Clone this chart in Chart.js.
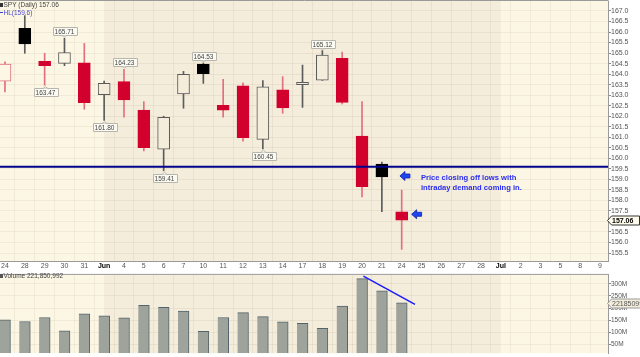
<!DOCTYPE html>
<html><head><meta charset="utf-8">
<script src="https://cdn.jsdelivr.net/npm/chart.js@4.4.1/dist/chart.umd.min.js"></script>
<style>
html,body{margin:0;padding:0;background:#fff;}
#w{position:relative;width:640px;height:357px;overflow:hidden;background:#fff;}
#p{position:absolute;left:0;top:0;width:640px;height:271px;}
#v{position:absolute;left:0;top:271px;width:640px;height:86px;}
</style></head><body>
<div id="w"><div id="p"><canvas id="cp"></canvas></div><div id="v"><canvas id="cv"></canvas></div></div>
<script>
// ---- data ----
const dates = ['24','28','29','30','31','Jun','4','5','6','7','10','11','12','13','14','17','18','19','20','21','24','25','26','27','28','Jul','2','3','5','8','9'];
const monthLabels = ['Jun','Jul'];
const priorClose = 165.0;
const opens  = [163.66,166.18,164.61,164.51,164.54,163.02,163.64,162.29,160.44,163.06,164.48,162.52,163.44,160.90,163.25,163.50,163.71,164.75,161.06,159.73,157.46];
const highs  = [164.59,166.78,164.99,165.71,165.46,163.67,164.23,162.69,162.00,164.13,164.53,163.75,163.59,163.69,163.88,164.43,165.12,165.05,162.69,159.82,158.49];
const lows   = [163.16,164.99,163.47,164.40,162.33,161.80,161.95,160.35,159.41,162.38,163.56,161.95,160.82,160.45,162.14,162.42,163.70,162.58,158.17,157.46,155.67];
const closes = [164.48,165.43,164.40,165.02,162.64,163.56,162.77,160.50,161.95,163.99,164.02,162.29,160.98,163.40,162.40,163.61,164.91,162.66,158.65,159.12,157.06];
const volumes = [151.5,144.0,160.7,105.7,176.0,168.0,159.0,211.0,202.7,187.0,103.0,160.7,181.0,164.5,142.7,136.0,116.0,207.6,322.0,271.0,221.850992]; // millions
const lastVolume = 221850992;
const priceTicks = [155.5,156.0,156.5,157.0,157.5,158.0,158.5,159.0,159.5,160.0,160.5,161.0,161.5,162.0,162.5,163.0,163.5,164.0,164.5,165.0,165.5,166.0,166.5,167.0];
const volumeTicks = [50,100,150,200,250,300];
const hlLevel = 159.6;
const calloutIdx  = [3,2,5,6,8,10,13,16];
const calloutVal  = [165.71,163.47,161.80,164.23,159.41,164.53,160.45,165.12];
const calloutSide = ['above','below','below','above','below','above','below','above'];
const arrowX = [19.91, 20.50];
const arrowY = [159.16, 157.34];
const noteLines = ['Price closing off lows with','intraday demand coming in.'];
const noteX = 20.97;
const noteY = [159.08, 158.57];
const volTrendX = [18.07, 20.67];
const volTrendY = [332, 215];

// ---- styling ----
const F = '"Liberation Sans", Arial, sans-serif';
const XMIN = -0.25, XMAX = 30.4;
const MAYC = '#fcf6e5', JUNC = '#f4eddc';
const RED = '#d2002d', REDWICK = '#e2707e', GRAYWICK = '#5c5c5c';
const GRID = 'rgba(150,125,80,0.10)';
const N = closes.length;
const junStart = dates.indexOf('Jun'), julStart = dates.indexOf('Jul');
const isRed = closes.map((c,i)=> c < (i ? closes[i-1] : priorClose));
const isHollow = closes.map((c,i)=> c >= opens[i]);
const inJune = i => i >= junStart && i < julStart;
const bodyFill = closes.map((c,i)=> isHollow[i] ? (inJune(i) ? JUNC : MAYC) : (isRed[i] ? RED : '#000'));
const bodyBorder = closes.map((c,i)=> isHollow[i] ? (isRed[i] ? REDWICK : '#5a5a5a') : (isRed[i] ? RED : '#000'));
const wickColor = closes.map((c,i)=> isRed[i] ? REDWICK : GRAYWICK);

const idx = closes.map((c,i)=>i);
const bodyData  = idx.map(i=>({x:i, y:[Math.min(opens[i],closes[i]), Math.max(opens[i],closes[i])]}));
const upWick    = idx.map(i=>({x:i, y:[Math.max(opens[i],closes[i]), highs[i]]}));
const downWick  = idx.map(i=>({x:i, y:[lows[i], Math.min(opens[i],closes[i])]}));

const bgPlugin = {
  id:'bg',
  beforeDraw(chart){
    const {ctx, chartArea:a, scales:{x}} = chart;
    ctx.save();
    ctx.fillStyle = MAYC; ctx.fillRect(a.left, a.top, a.right-a.left, a.bottom-a.top);
    const x0 = x.getPixelForValue(junStart), x1 = x.getPixelForValue(julStart);
    ctx.fillStyle = JUNC; ctx.fillRect(x0, a.top, x1-x0, a.bottom-a.top);
    ctx.restore();
  },
  afterDraw(chart){
    const {ctx, chartArea:a} = chart;
    ctx.save();
    ctx.strokeStyle = '#9a9a9a'; ctx.lineWidth = 1;
    ctx.beginPath(); ctx.moveTo(a.left, a.top-0.5); ctx.lineTo(a.right+0.5, a.top-0.5); ctx.stroke();
    ctx.restore();
  }
};

function tag(ctx, r, py, text, bold, right){
  ctx.save();
  ctx.font = (bold?'bold ':'') + '7px ' + F;
  ctx.beginPath();
  ctx.moveTo(r-0.5, py); ctx.lineTo(r+3.5, py-4.5); ctx.lineTo(right, py-4.5);
  ctx.lineTo(right, py+4.5); ctx.lineTo(r+3.5, py+4.5); ctx.closePath();
  ctx.fillStyle = bold ? '#fffcee' : '#f3eedb'; ctx.fill();
  ctx.strokeStyle = bold ? '#333' : '#999'; ctx.lineWidth = 1; ctx.stroke();
  ctx.fillStyle = bold ? '#000' : '#555'; ctx.textBaseline = 'middle'; ctx.textAlign = 'left';
  ctx.fillText(text, r+4, py+0.5);
  ctx.restore();
}

const pricePlugin = {
  id:'priceDeco',
  afterDatasetsDraw(chart){
    const {ctx, scales:{x,y}} = chart;
    ctx.save();
    ctx.font = '6.5px ' + F;
    calloutIdx.forEach((ci,k)=>{
      const px = Math.round(x.getPixelForValue(ci)) + 0.5;
      const py = y.getPixelForValue(calloutVal[k]);
      const t = calloutVal[k].toFixed(2);
      const w = Math.ceil(ctx.measureText(t).width) + 4, h = 8;
      const above = calloutSide[k] === 'above';
      const tipY = above ? py - 1.5 : py + 1.5;
      const boxY = above ? py - 3 - h : py + 3;
      const bx = Math.round(px - w/2) + 0.5, by = Math.round(boxY) + 0.5;
      ctx.beginPath();
      ctx.rect(bx, by, w, h);
      ctx.fillStyle = '#fbfaf3'; ctx.fill();
      ctx.strokeStyle = '#b8b6ac'; ctx.lineWidth = 1; ctx.stroke();
      ctx.beginPath();
      const edge = above ? by + h : by;
      ctx.moveTo(px-2.5, edge); ctx.lineTo(px, tipY); ctx.lineTo(px+2.5, edge);
      ctx.fillStyle = '#fbfaf3'; ctx.fill(); ctx.strokeStyle = '#b8b6ac'; ctx.stroke();
      ctx.fillStyle = '#444'; ctx.textAlign = 'center'; ctx.textBaseline = 'middle';
      ctx.fillText(t, px, by + h/2 + 0.5);
    });
    arrowX.forEach((ax,k)=>{
      const tx = x.getPixelForValue(ax), ty = y.getPixelForValue(arrowY[k]);
      ctx.beginPath();
      ctx.moveTo(tx, ty);
      ctx.lineTo(tx+5, ty-4.5); ctx.lineTo(tx+5, ty-2); ctx.lineTo(tx+10, ty-2);
      ctx.lineTo(tx+10, ty+2); ctx.lineTo(tx+5, ty+2); ctx.lineTo(tx+5, ty+4.5);
      ctx.closePath();
      ctx.fillStyle = '#1f45f0'; ctx.fill();
      ctx.strokeStyle = '#0a1faa'; ctx.lineWidth = 0.8; ctx.stroke();
    });
    ctx.font = 'bold 7.6px ' + F;
    ctx.fillStyle = '#2a2ef0'; ctx.textAlign = 'left'; ctx.textBaseline = 'middle';
    noteLines.forEach((l,k)=> ctx.fillText(l, x.getPixelForValue(noteX), y.getPixelForValue(noteY[k])));
    ctx.restore();
  },
  afterDraw(chart){
    const {ctx, chartArea:a, scales:{y}} = chart;
    ctx.save();
    ctx.font = '6.5px ' + F; ctx.textBaseline = 'middle'; ctx.textAlign = 'left';
    ctx.fillStyle = '#333'; ctx.fillRect(0, 3, 3, 4);
    ctx.fillStyle = '#444'; ctx.fillText('SPY (Daily) ' + closes[N-1].toFixed(2), 3.5, 5.5);
    ctx.strokeStyle = '#3a3ad0'; ctx.lineWidth = 1;
    ctx.beginPath(); ctx.moveTo(0, 12.5); ctx.lineTo(3, 12.5); ctx.stroke();
    ctx.fillStyle = '#4848c8'; ctx.fillText('HL(' + hlLevel.toFixed(1) + ')', 3.5, 13);
    ctx.restore();
    tag(ctx, a.right, Math.round(y.getPixelForValue(closes[N-1])) + 0.5, closes[N-1].toFixed(2), true, 639.5);
  }
};

const xCommon = {
  type:'linear', min:XMIN, max:XMAX, offset:false,
  afterBuildTicks: s => { s.ticks = dates.map((d,i)=>({value:i})); },
  grid:{color:GRID, drawTicks:false, lineWidth:1},
};

new Chart(document.getElementById('cp'), {
  type:'bar',
  data:{ datasets:[
    {type:'line', data:[{x:XMIN,y:hlLevel},{x:XMAX,y:hlLevel}], borderColor:'#00008c', borderWidth:2, pointRadius:0, order:0},
    {data:bodyData, backgroundColor:bodyFill, borderColor:bodyBorder, borderWidth:1, borderSkipped:false, barThickness:12, grouped:false, order:1},
    {data:upWick, backgroundColor:wickColor, borderWidth:0, barThickness:1, grouped:false, order:3},
    {data:downWick, backgroundColor:wickColor, borderWidth:0, barThickness:1, grouped:false, order:3},
  ]},
  options:{
    responsive:true, maintainAspectRatio:false, animation:false, devicePixelRatio:1,
    layout:{padding:{top:1,left:0,right:0,bottom:0}},
    plugins:{legend:{display:false}, tooltip:{enabled:false}},
    scales:{
      x:Object.assign({}, xCommon, {
        position:'bottom',
        afterFit: s => { s.height = 10; s.paddingLeft = 0; s.paddingRight = 0; },
        border:{display:true, color:'#9a9a9a'},
        ticks:{ autoSkip:false, maxRotation:0, padding:1,
          callback: v => dates[v] ?? '',
          font: c => ({family:F, size:7, weight: (c.tick && monthLabels.includes(dates[c.tick.value])) ? 'bold' : 'normal'}),
          color: c => (c.tick && monthLabels.includes(dates[c.tick.value])) ? '#000' : '#555'
        }
      }),
      y:{ type:'linear', position:'right', min:155.12, max:167.475,
        afterBuildTicks: s => { s.ticks = priceTicks.map(v=>({value:v})); },
        afterFit: s => { s.width = 32; s.paddingTop = 0; s.paddingBottom = 0; },
        grid:{color:GRID, drawTicks:true, tickLength:3, tickColor:'#888'},
        border:{display:true, color:'#9a9a9a'},
        ticks:{ autoSkip:false, padding:0, font:{family:F, size:7}, color:'#555', callback: v => Number(v).toFixed(1) }
      }
    }
  },
  plugins:[bgPlugin, pricePlugin]
});

const volPlugin = {
  id:'volDeco',
  afterDraw(chart){
    const {ctx, chartArea:a, scales:{y}} = chart;
    ctx.save();
    ctx.font = '6.5px ' + F; ctx.textBaseline = 'middle'; ctx.textAlign = 'left';
    ctx.fillStyle = '#555'; ctx.fillRect(0, 3, 3, 4);
    ctx.fillStyle = '#444'; ctx.fillText('Volume ' + lastVolume.toLocaleString('en-US'), 3.5, 5);
    ctx.restore();
    tag(ctx, a.right, Math.round(y.getPixelForValue(volumes[N-1])) + 0.5, String(lastVolume), false, 645);
  }
};

new Chart(document.getElementById('cv'), {
  type:'bar',
  data:{ datasets:[
    {type:'line', data:volTrendX.map((vx,k)=>({x:vx, y:volTrendY[k]})), borderColor:'#1a1aff', borderWidth:1.5, pointRadius:0, order:0},
    {data:idx.map(i=>({x:i, y:volumes[i]})), backgroundColor:'#9ea39b', borderColor:'#55646b', borderWidth:{top:1,right:1,left:0,bottom:0}, borderSkipped:false, barThickness:11, grouped:false, order:1},
  ]},
  options:{
    responsive:true, maintainAspectRatio:false, animation:false, devicePixelRatio:1,
    layout:{padding:{top:1,left:0,right:0,bottom:0}},
    plugins:{legend:{display:false}, tooltip:{enabled:false}},
    scales:{
      x:Object.assign({}, xCommon, { display:true, ticks:{display:false}, border:{display:false},
        afterFit: s => { s.height = 0; } }),
      y:{ type:'linear', position:'right', min:13, max:337.4,
        afterBuildTicks: s => { s.ticks = volumeTicks.map(v=>({value:v})); },
        afterFit: s => { s.width = 32; },
        grid:{color:GRID, drawTicks:true, tickLength:3, tickColor:'#888'},
        border:{display:true, color:'#9a9a9a'},
        ticks:{ autoSkip:false, padding:0, font:{family:F, size:6.5}, color:'#555', callback: v => v + 'M' }
      }
    }
  },
  plugins:[bgPlugin, volPlugin]
});
</script>
</body></html>
